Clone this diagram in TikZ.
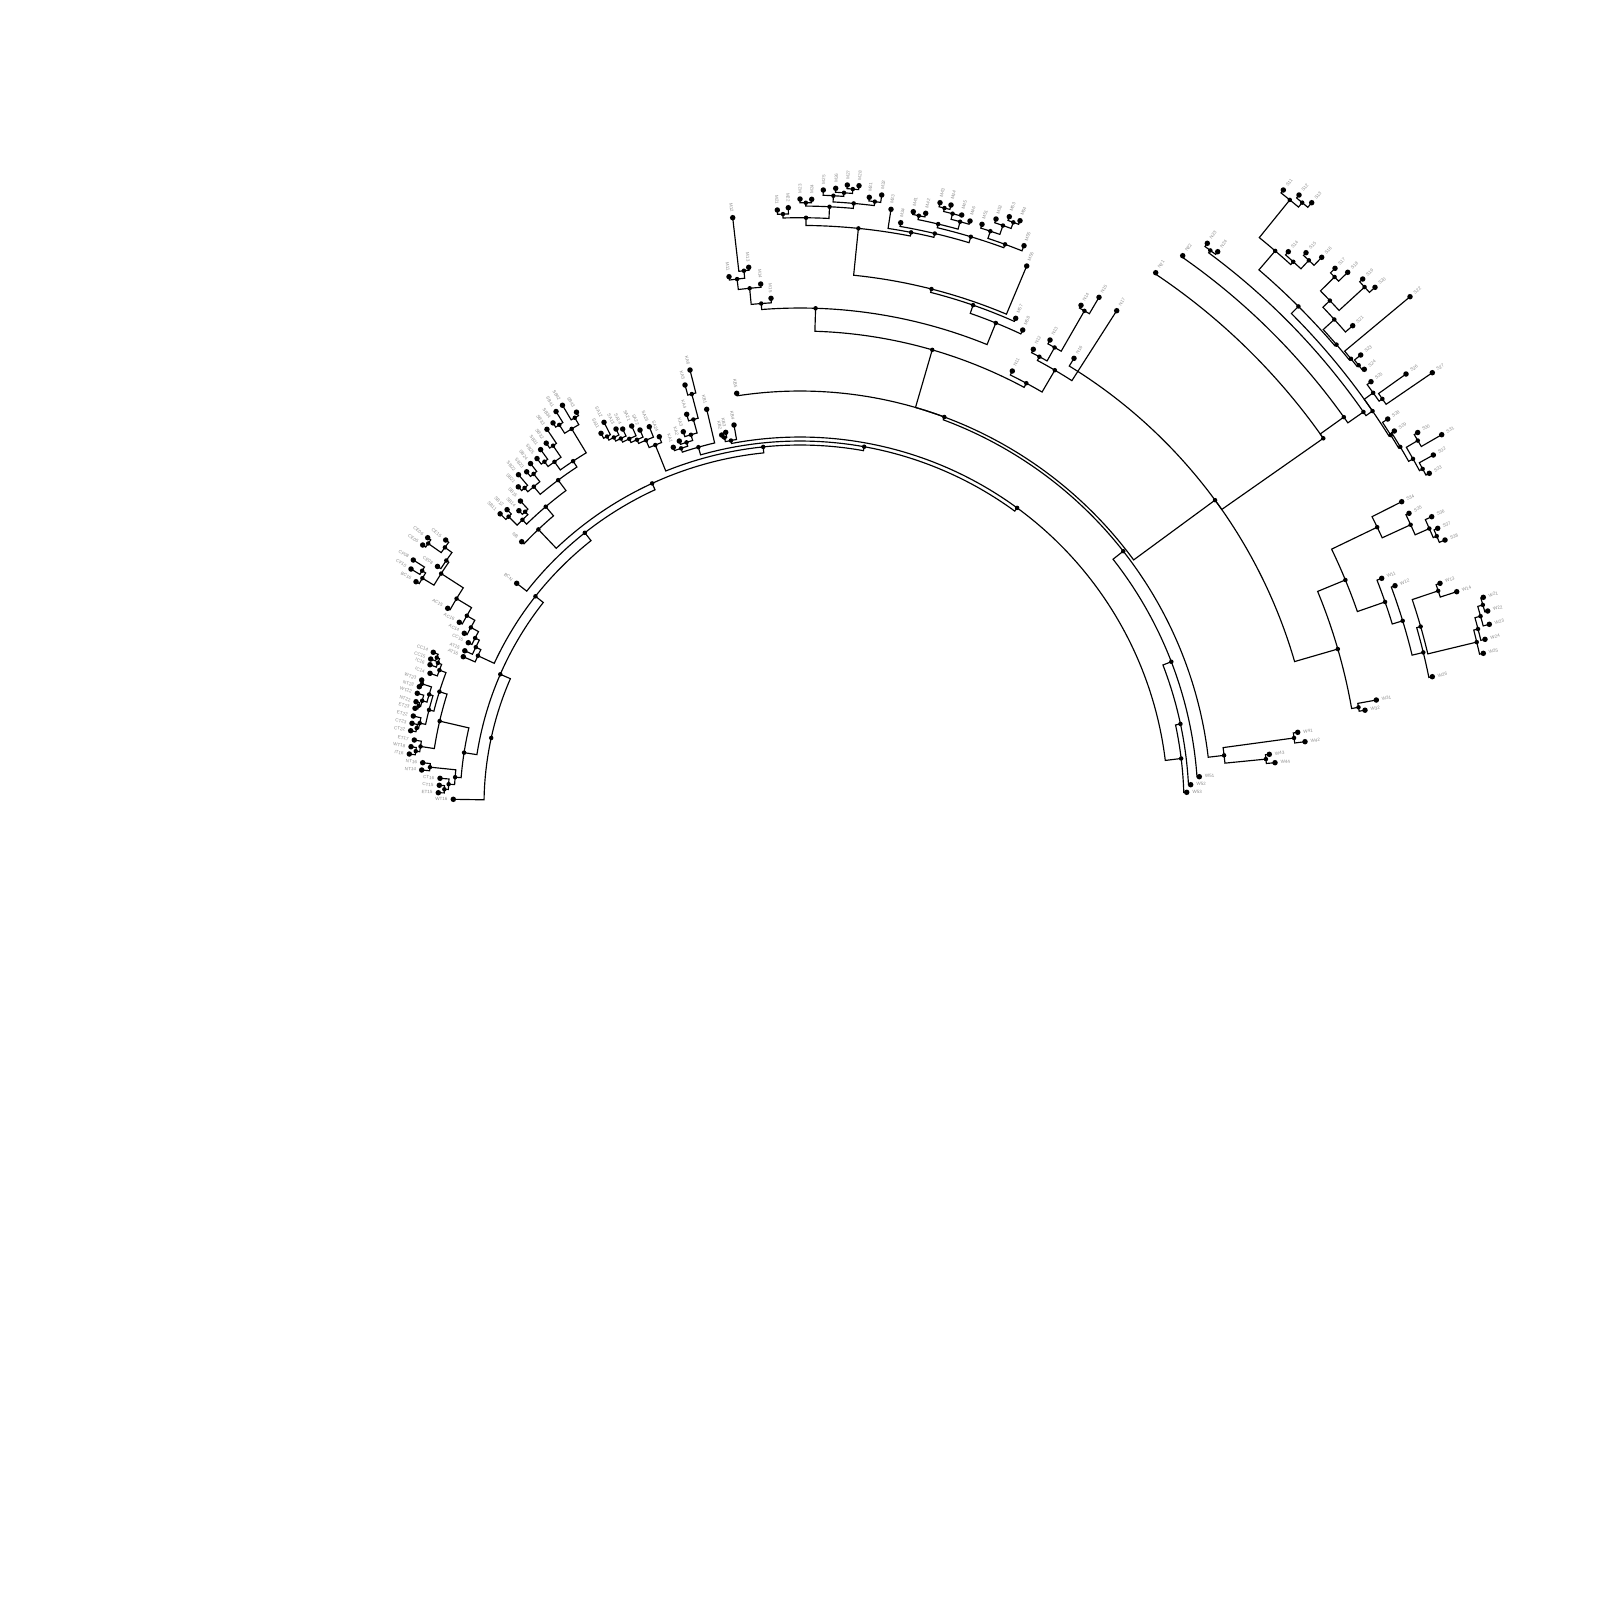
\documentclass[tikz,border=0pt]{standalone}
\usepackage{fontspec}
\setmainfont{Liberation Sans}
\usetikzlibrary{calc}

\tikzset{
  tip/.style={circle,fill=black,inner sep=0pt,minimum size=0.55mm},
  knot/.style={circle,fill=black,inner sep=0pt,minimum size=0.45mm},
  edge/.style={line width=0.33pt},
  lab/.style={font=\fontsize{1.3}{1.5}\selectfont,text=black!45,inner sep=0.3pt}
}

% polar bookkeeping, centre of the fan at (800,805)
\newcommand\setpol[3]{\expandafter\xdef\csname ang@#1\endcsname{#2}\expandafter\xdef\csname rad@#1\endcsname{#3}}
\newcommand\ang[1]{\csname ang@#1\endcsname}
\newcommand\rad[1]{\csname rad@#1\endcsname}
\newcommand\putlab[2]{%
  \pgfmathsetmacro\lr{\rad{#1}+4}%
  \pgfmathtruncatemacro\side{\ang{#1}<-90}%
  \ifnum\side=1
    \pgfmathsetmacro\rot{-\ang{#1}-180}%
    \path (C) ++(\ang{#1}:\lr) node[lab,anchor=east,rotate=\rot] {#2};%
  \else
    \pgfmathsetmacro\rot{-\ang{#1}}%
    \path (C) ++(\ang{#1}:\lr) node[lab,anchor=west,rotate=\rot] {#2};%
  \fi}
\newcommand\leaf[4]{%
  \pgfmathsetmacro\ta{atan2(#3-805,#2-800)}%
  \pgfmathsetmacro\tr{veclen(#2-800,#3-805)}%
  \setpol{#1}{\ta}{\tr}%
  \node[tip] (#1) at (#2,#3) {};%
  \putlab{#1}{#4}}
\newcommand\leafk[4]{%
  \pgfmathsetmacro\ta{1.0804*#2-179.06}%
  \setpol{#1}{\ta}{#3}%
  \path (C) ++(\ta:#3) node[tip] (#1) {};%
  \putlab{#1}{#4}}
\newcommand\branch[2]{\draw[edge] (#1.center) arc[start angle=\ang{#1},end angle=\ang{#2},radius=\rad{#1}] -- (#2.center);}
\newcommand\clade[4]{%
  \pgfmathsetmacro\ta{(\ang{#2}+\ang{#3})/2}%
  \setpol{#1}{\ta}{#4}%
  \path (C) ++(\ta:#4) node[knot] (#1) {};%
  \branch{#1}{#2}\branch{#1}{#3}}
\newcommand\knot[3]{%
  \pgfmathsetmacro\ta{-#2}%
  \setpol{#1}{\ta}{#3}%
  \path (C) ++(\ta:#3) node[knot] (#1) {};}

\begin{document}
\begin{tikzpicture}[x=0.1mm,y=-0.1mm]
\useasboundingbox (0,0) rectangle (1600,1609);
\coordinate (C) at (800,805);

% tips, left to right
\leaf{A0}{453.3}{799.3}{WT16}
\leaf{A1}{438.3}{792.7}{ET15}
\leaf{A2}{439.3}{785.3}{CT15}
\leaf{A3}{440}{778.3}{CT16}
\leaf{A4}{421.7}{770}{NT14}
\leaf{A5}{422.7}{762.7}{NT16}
\leaf{A6}{409.3}{754}{IT16}
\leaf{A7}{411}{746.7}{WT18}
\leaf{A8}{414.3}{740}{ET17}
\leaf{A9}{410.7}{730.7}{CT22}
\leaf{A10}{412}{723.3}{CT23}
\leaf{A11}{413.3}{716}{ET22}
\leaf{A12}{415}{708.3}{ET23}
\leaf{A13}{416}{701.7}{NT22}
\leaf{A14}{417.3}{693.3}{WT22}
\leaf{A15}{419.3}{686.7}{NT23}
\leaf{A16}{421.7}{680}{WT23}
\leaf{A17}{430}{673.3}{IC14}
\leaf{A18}{430}{664.7}{IC16}
\leaf{A19}{430.7}{659}{CC15}
\leaf{A20}{433.3}{652.3}{CC14}
\leaf{B21}{463.3}{656.7}{AT16}
\leafk{B22}{22}{369}{AT15}
\leaf{B23}{468.3}{642.7}{CC16}
\leaf{B24}{464.3}{633.3}{AC14}
\leaf{B25}{459.3}{622.3}{AC16}
\leaf{B26}{447.7}{608.3}{AC15}
\leaf{T27}{416}{581.7}{BC16}
\leaf{T28}{411}{569}{CF10}
\leaf{T29}{413.3}{560}{CF08}
\leafk{T30}{30}{434}{CE08}
\leaf{T31}{422.7}{545}{CE05}
\leaf{T32}{427.7}{537.7}{CE06}
\leaf{T33}{445.7}{540}{CE15}
\leaf{B34}{516.7}{583.3}{BCN}
\leaf{C39}{521.7}{541.7}{NB}
\leafk{C40}{40}{418}{SB11}
\leafk{C41}{41}{416}{SB12}
\leafk{C42}{42}{407}{SB14}
\leafk{C43}{43}{413}{SB15}
\leafk{C44}{44}{425}{SB21}
\leafk{C45}{45}{434}{SB22}
\leafk{C46}{46}{431}{SB23}
\leafk{C47}{47}{435}{SB24}
\leafk{C48}{48}{435}{SB25}
\leafk{C49}{49}{440}{SB31}
\leafk{C50}{50}{442}{SB32}
\leafk{C51}{51}{453}{SB33}
\leafk{C52}{52}{455}{SB34}
\leafk{C53}{53}{463}{SB41}
\leafk{C54}{54}{465}{SB42}
\leafk{C55}{55}{452}{SB43}
\leaf{D56}{601}{433.3}{SA11}
\leaf{D57}{604}{422.3}{SA12}
\leaf{D58}{616}{429}{SA13}
\leaf{D59}{622.7}{429}{SA14}
\leaf{D60}{631.7}{426}{SA21}
\leaf{D61}{640}{430}{SA22}
\leaf{D62}{649.3}{426.7}{SA23}
\leaf{D63}{659.3}{436.7}{SA24}
\leaf{E64}{673.3}{447.3}{KA1}
\leaf{E65}{679.3}{441}{KA2}
\leaf{E66}{683.3}{431.7}{KA3}
\leaf{E67}{686.7}{414.3}{KA4}
\leaf{E68}{685}{385}{KA5}
\leaf{E69}{690}{370}{KA6}
\leaf{E70}{706.7}{409.3}{KB1}
\leaf{F71}{721.7}{435}{KB2}
\leafk{F72}{72}{380}{KB3}
\leaf{F73}{734}{425}{KB4}
\leaf{F74}{736.7}{393.3}{KB5}
\leaf{G75}{729}{276.7}{M11}
\leaf{G76}{732.7}{217.7}{M12}
\leaf{G77}{748.7}{267.3}{M13}
\leaf{G78}{760.7}{284}{M14}
\leaf{G79}{771}{298.3}{M15}
\leaf{H80}{777.3}{210}{M21}
\leaf{H81}{788.3}{207.7}{M22}
\leaf{H82}{800}{199}{M23}
\leaf{H83}{811.7}{199.3}{M24}
\leaf{H84}{823.3}{190}{M25}
\leaf{H85}{835.7}{188.3}{M26}
\leaf{H86}{847.3}{185}{M27}
\leaf{H87}{859}{185.7}{M28}
\leaf{H88}{869.3}{197.3}{M31}
\leaf{H89}{881.7}{195}{M32}
\leaf{I90}{891}{209.3}{M33}
\leaf{I91}{900.7}{222.7}{M34}
\leaf{I92}{913.3}{211.7}{M41}
\leaf{I93}{925.7}{213.3}{M42}
\leaf{I94}{940}{202.7}{M43}
\leaf{I95}{951}{205}{M44}
\leaf{I96}{961.7}{215}{M45}
\leaf{I97}{970}{221}{M46}
\leaf{I98}{982}{224.3}{M51}
\leaf{I99}{996}{219}{M52}
\leaf{I100}{1009.3}{216.7}{M53}
\leaf{I101}{1020}{220.7}{M54}
\leaf{I102}{1024}{245.7}{M55}
\leaf{I103}{1026.7}{266}{M56}
\leaf{I104}{1015.7}{318.3}{M57}
\leaf{I105}{1022.7}{330}{M58}
\leaf{I106}{1012.3}{371}{N11}
\leaf{I107}{1033.3}{349.3}{N12}
\leaf{I108}{1050}{340}{N13}
\leaf{I109}{1081}{305.3}{N14}
\leaf{I110}{1099}{297.3}{N15}
\leaf{I111}{1074}{358.3}{N16}
\leaf{I112}{1116.7}{310.7}{N17}
\leaf{J113}{1155.7}{272.7}{N21}
\leaf{J114}{1182.7}{255.7}{N22}
\leaf{J115}{1207.3}{243.3}{N23}
\leaf{J116}{1217.7}{251.7}{N24}
\leaf{J117}{1283.3}{190}{S11}
\leaf{J118}{1299}{195}{S12}
\leaf{J119}{1311.7}{202.7}{S13}
\leaf{J120}{1288.3}{251.7}{S14}
\leaf{J121}{1306}{252.7}{S15}
\leaf{J122}{1321.7}{257.3}{S16}
\leaf{J123}{1335}{268.3}{S17}
\leaf{J124}{1347.7}{272.3}{S18}
\leaf{J125}{1362.7}{279}{S19}
\leaf{J126}{1375}{287.3}{S20}
\leaf{J127}{1352.7}{325.7}{S21}
\leaf{J128}{1410}{296.7}{S22}
\leaf{J129}{1360.7}{355}{S23}
\leaf{J130}{1364.3}{369.3}{S24}
\leaf{J131}{1371}{381.7}{S25}
\leaf{J132}{1406}{374}{S26}
\leaf{J133}{1432.3}{372.7}{S27}
\leaf{J134}{1387.7}{419}{S28}
\leaf{J135}{1394.3}{431}{S29}
\leaf{J136}{1417.7}{432.5}{S30}
\leaf{J137}{1441.7}{434.7}{S31}
\leaf{J138}{1433.3}{455}{S32}
\leaf{J139}{1429.3}{473.3}{S33}
\leaf{J140}{1401.7}{501.7}{S34}
\leaf{J141}{1409}{513.3}{S35}
\leaf{J142}{1431.7}{516.7}{S36}
\leaf{J143}{1437.7}{528.3}{S37}
\leaf{J144}{1445}{540}{S38}
\leaf{K145}{1381.7}{578.3}{W11}
\leaf{K146}{1395}{585.7}{W12}
\leaf{K147}{1440}{583.3}{W13}
\leaf{K148}{1456.7}{591.7}{W14}
\leaf{K149}{1483.3}{597.3}{W21}
\leaf{K150}{1487.7}{611}{W22}
\leaf{K151}{1489.3}{624.3}{W23}
\leaf{K152}{1485}{639.3}{W24}
\leaf{K153}{1483.3}{653.3}{W25}
\leaf{K154}{1432.3}{676.7}{W26}
\leaf{L155}{1376.3}{700}{W31}
\leaf{L156}{1365}{710.2}{W32}
\leaf{M158}{1297.7}{732.3}{W41}
\leaf{M159}{1305}{741.7}{W42}
\leaf{M160}{1269.3}{754.3}{W43}
\leaf{M161}{1275}{762.7}{W44}
\leaf{N162}{1199.3}{776.7}{W51}
\leaf{N163}{1190.7}{784.7}{W52}
\leaf{N164}{1186.7}{792.3}{W53}

% clades
\clade{na1}{A1}{A2}{356}
\clade{na2}{na1}{A3}{352}
\clade{na3}{A4}{A5}{372}
\clade{na4}{na2}{na3}{346}
\clade{na5}{A6}{A7}{388}
\clade{na6}{na5}{A8}{384}
\clade{na7}{A9}{A10}{391}
\clade{na8}{na7}{A11}{389}
\clade{na9}{A12}{A13}{394}
\clade{na10}{na9}{A14}{392}
\clade{na11}{A15}{A16}{397}
\clade{na12}{na10}{na11}{387}
\clade{na13}{na8}{na12}{383}
\clade{na14}{A19}{A20}{392}
\clade{na15}{A18}{na14}{389}
\clade{na16}{A17}{na15}{385}
\clade{na17}{na13}{na16}{378}
\clade{na18}{na6}{na17}{370}
\clade{na19}{na4}{na18}{340}

\clade{nt1}{T28}{T29}{444.6}
\clade{nt2}{T27}{nt1}{440.5}
\clade{nt3}{T31}{T32}{454.6}
\clade{nt4}{nt3}{T33}{438.7}
\clade{nt5}{T30}{nt4}{430}
\clade{nt6}{nt2}{nt5}{427}
\clade{nb1}{B26}{nt6}{400.7}
\clade{nb2}{B25}{nb1}{383.2}
\clade{nb3}{B24}{nb2}{374}
\clade{nb4}{B23}{nb3}{365.3}
\clade{nb5}{B22}{nb4}{360.6}
\clade{nb6}{B21}{nb5}{355}

\clade{nc1}{C40}{C41}{410}
\clade{nc2}{C42}{C43}{402}
\clade{nc3}{nc1}{nc2}{398}
\clade{nc4}{C44}{C45}{420}
\clade{nc5}{C46}{C47}{425}
\clade{nc6}{nc4}{nc5}{415}
\clade{nc7}{C48}{C49}{428}
\clade{nc8}{C50}{C51}{436}
\clade{nc9}{nc7}{nc8}{422}
\clade{nc10}{C52}{C53}{450}
\clade{nc11}{C54}{C55}{448}
\clade{nc12}{nc10}{nc11}{440}
\clade{nc13}{nc9}{nc12}{412}
\clade{nc14}{nc6}{nc13}{405}
\clade{nc15}{nc3}{nc14}{392}
\clade{nc16}{C39}{nc15}{380}

\clade{nd1}{D56}{D57}{416}
\clade{nd2}{nd1}{D58}{412}
\clade{nd3}{nd2}{D59}{408}
\clade{nd4}{nd3}{D60}{404}
\clade{nd5}{nd4}{D61}{400}
\clade{nd6}{nd5}{D62}{396}
\clade{nd7}{nd6}{D63}{388}

\clade{ne1}{E68}{E69}{425}
\clade{ne2}{E67}{ne1}{400}
\clade{ne3}{E66}{ne2}{386}
\clade{ne4}{E65}{ne3}{380}
\clade{ne5}{E64}{ne4}{376}
\clade{ne6}{ne5}{E70}{372}
\clade{nf1}{F71}{F72}{375}
\clade{nf2}{nf1}{F73}{371}

\clade{ng1}{G76}{G77}{537.2}
\clade{ng2}{G75}{ng1}{529.7}
\clade{ng3}{ng2}{G78}{519.2}
\clade{ng4}{ng3}{G79}{503}

\clade{nh1}{H80}{H81}{591.2}
\clade{nh2}{H82}{H83}{602.3}
\clade{nh3}{H86}{H87}{618.2}
\clade{nh4}{H85}{nh3}{613.8}
\clade{nh5}{H84}{nh4}{610.2}
\clade{nh6}{H88}{H89}{608}
\clade{nh7}{nh5}{nh6}{604}
\clade{nh8}{nh2}{nh7}{599}
\clade{nh9}{nh1}{nh8}{587.3}
\clade{ni1}{I92}{I93}{601.2}
\clade{ni2}{I94}{I95}{614.2}
\clade{ni3}{ni2}{I96}{610.7}
\clade{ni4}{ni3}{I97}{604.9}
\clade{ni5}{ni1}{ni4}{597.2}
\clade{ni6}{I100}{I101}{620.5}
\clade{ni7}{I99}{ni6}{614}
\clade{ni8}{I98}{ni7}{604.6}
\clade{ni9}{ni8}{I102}{597}
\clade{ni10}{ni5}{ni9}{593.4}
\clade{ni11}{I91}{ni10}{587.2}
\clade{ni12}{I90}{ni11}{583.3}
\clade{nh10}{nh9}{ni12}{579.6}
\clade{ni13}{nh10}{I103}{532.5}
\clade{ni14}{ni13}{I104}{529}
\clade{ni15}{ni14}{I105}{520.3}

\clade{nj1}{I109}{I110}{570.2}
\clade{nj2}{I108}{nj1}{523.6}
\clade{nj3}{I107}{nj2}{508.2}
\clade{nj4}{nj3}{I112}{504}
\clade{nj5}{I106}{nj4}{478.7}
\knot{top1}{88.2}{497}
\branch{top1}{ng4}\branch{top1}{ni15}
\knot{top2}{73.8}{474}
\branch{top2}{top1}\branch{top2}{nj5}

% right-hand fan
\clade{nj7}{J115}{J116}{689.9}
\clade{nm1}{J118}{J119}{784.3}
\clade{nm2}{J117}{nm1}{778.5}
\clade{nm3}{J121}{J122}{745.4}
\clade{nm4}{J120}{nm3}{733.8}
\clade{nm5}{nm2}{nm4}{730}
\clade{ns1}{J123}{J124}{751.4}
\clade{ns2}{J125}{J126}{766.2}
\clade{ns3}{ns1}{ns2}{731.6}
\clade{ns4}{ns3}{J127}{722}
\clade{nu1}{J129}{J130}{711}
\clade{nu2}{J128}{nu1}{709}
\clade{nu3}{ns4}{nu2}{707}
\clade{nv1}{nm5}{nu3}{705}
\clade{nq1}{J132}{J133}{710}
\clade{nq2}{J131}{nq1}{706}
\clade{nr1}{J136}{J137}{717.3}
\clade{nr2}{J138}{J139}{707.6}
\clade{nr3}{nr1}{nr2}{704}
\clade{nr4}{J135}{nr3}{699}
\clade{nr5}{J134}{nr4}{697}
\knot{nv2}{34.53}{695}
\branch{nv2}{nv1}\branch{nv2}{nq2}\branch{nv2}{nr5}
\knot{nv3}{34.9}{687}
\branch{nv3}{nj7}\branch{nv3}{nv2}
\knot{nv4}{35.5}{668}
\branch{nv4}{J114}\branch{nv4}{nv3}
\knot{nv5}{35.02}{639}
\branch{nv5}{J113}\branch{nv5}{nv4}

\clade{nw1}{J143}{J144}{691.2}
\clade{nw2}{J142}{nw1}{687.4}
\clade{nw3}{J141}{nw2}{671.9}
\clade{nw4}{J140}{nw3}{640.6}
\clade{nk1}{K147}{K148}{673.2}
\clade{nk2}{K149}{K150}{711.6}
\clade{nk3}{nk2}{K151}{706.3}
\clade{nk4}{nk3}{K152}{700.5}
\clade{nk5}{nk4}{K153}{696.1}
\clade{nk6}{nk1}{nk5}{645.8}
\clade{nk7}{nk6}{K154}{641.7}
\clade{nk8}{K146}{nk7}{630.2}
\clade{nk9}{K145}{nk8}{619.3}
\clade{nx1}{nw4}{nk9}{590}
\clade{nl1}{L155}{L156}{567}
\clade{nx2}{nx1}{nl1}{560}
\knot{nx3}{36.3}{515}
\branch{nx3}{I111}\branch{nx3}{nv5}\branch{nx3}{nx2}

\knot{top3}{69.6}{414}
\branch{top3}{F74}\branch{top3}{top2}\branch{top3}{nx3}

\clade{nm6}{M158}{M159}{498.6}
\clade{nm7}{M160}{M161}{468.2}
\clade{nm8}{nm6}{nm7}{427}
\clade{nx4}{top3}{nm8}{411}
\clade{nz1}{nx4}{N162}{398}
\clade{nz2}{nz1}{N163}{389}
\clade{nz3}{nz2}{N164}{384}

% backbone
\clade{b12}{nf2}{nz3}{368}
\clade{b11}{ne6}{b12}{364}
\clade{b10}{nd7}{b11}{360}
\clade{b9}{nc16}{b10}{354}
\clade{b8}{B34}{b9}{347}
\clade{b7}{nb6}{b8}{337}
\clade{b6}{na19}{b7}{327}
\clade{b5}{A0}{b6}{316}
\end{tikzpicture}
\end{document}
